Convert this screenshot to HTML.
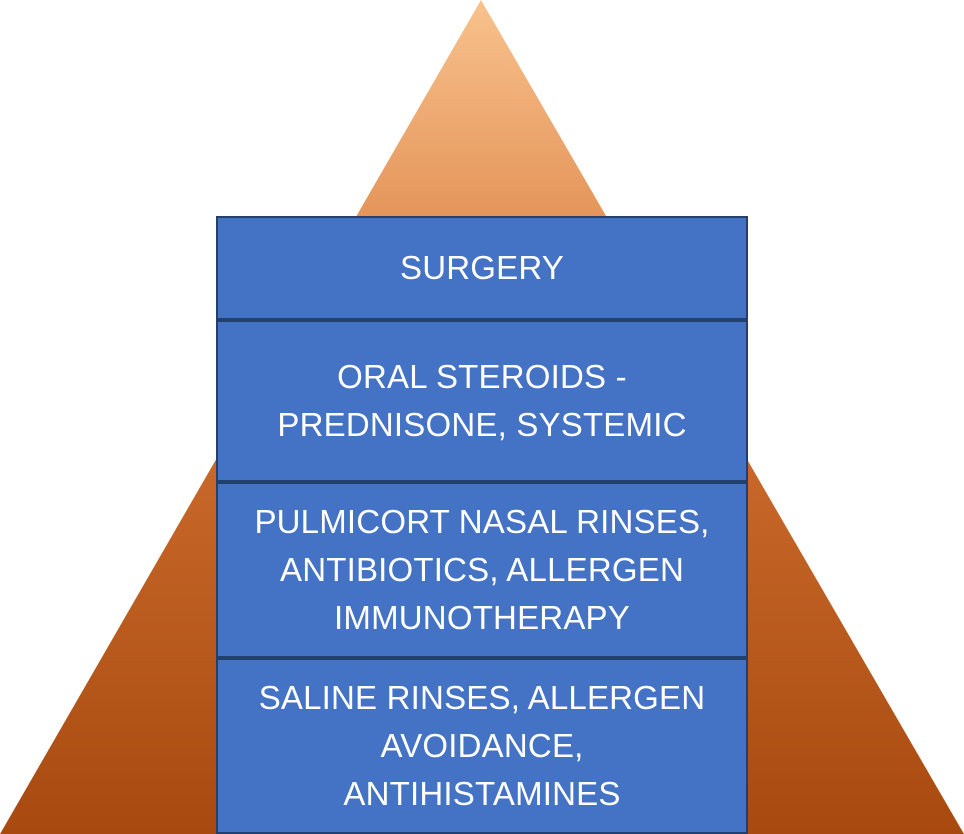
<!DOCTYPE html>
<html><head><style>
html,body{margin:0;padding:0;background:#fff;}
body{width:964px;height:834px;position:relative;overflow:hidden;font-family:"Liberation Sans",sans-serif;}
.b{position:absolute;left:216px;width:532px;box-sizing:border-box;border:2px solid #22406f;background:#4472c4;color:#fff;font-size:33px;letter-spacing:0.2px;line-height:48px;text-align:center;display:flex;align-items:center;justify-content:center;}
</style></head><body>
<svg width="964" height="834" style="position:absolute;left:0;top:0">
<defs><linearGradient id="g" x1="0" y1="0" x2="0" y2="1">
<stop offset="0" stop-color="#f9c28d"/><stop offset="0.26" stop-color="#e4955a"/><stop offset="0.55" stop-color="#c8682a"/><stop offset="1" stop-color="#a84a10"/></linearGradient></defs>
<polygon points="481,0 964,834 0,834" fill="url(#g)"/>
</svg>
<div class="b" style="top:216px;height:104px">SURGERY</div>
<div class="b" style="top:320px;height:162px">ORAL STEROIDS -<br>PREDNISONE, SYSTEMIC</div>
<div class="b" style="top:482px;height:176px">PULMICORT NASAL RINSES,<br>ANTIBIOTICS, ALLERGEN<br>IMMUNOTHERAPY</div>
<div class="b" style="top:658px;height:176px">SALINE RINSES, ALLERGEN<br>AVOIDANCE,<br>ANTIHISTAMINES</div>
</body></html>
